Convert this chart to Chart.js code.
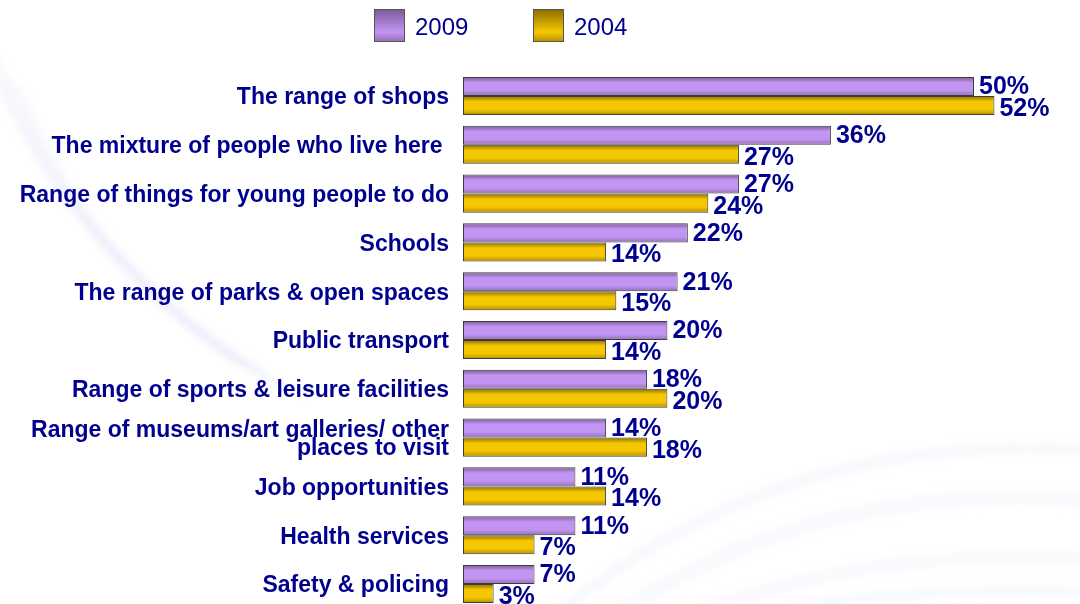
<!DOCTYPE html>
<html>
<head>
<meta charset="utf-8">
<title>Area satisfaction 2009 vs 2004</title>
<script src="https://cdn.jsdelivr.net/npm/chart.js@4.4.1/dist/chart.umd.min.js"></script>
<style>
  html, body { margin: 0; padding: 0; background: #ffffff; overflow: hidden; }
  #wrap { width: 1080px; height: 612px; position: relative; }
</style>
</head>
<body>
<div id="wrap"><canvas id="chart" width="1080" height="612"></canvas></div>
<script>
// ---- data ----
const categories = [
  'The range of shops',
  'The mixture of people who live here ',
  'Range of things for young people to do',
  'Schools',
  'The range of parks & open spaces',
  'Public transport',
  'Range of sports & leisure facilities',
  ['Range of museums/art galleries/ other', 'places to visit'],
  'Job opportunities',
  'Health services',
  'Safety & policing'
];
const seriesNames = ['2009', '2004'];
const values2009 = [50, 36, 27, 22, 21, 20, 18, 14, 11, 11, 7];
const values2004 = [52, 27, 24, 14, 15, 14, 20, 18, 14, 7, 3];

// ---- styling ----
const NAVY = '#00008f';
const CAT_PCT = 0.78;
const purpleStops = ['#7a5a98', '#c395f3', '#c395f3', '#9470b6'];
const goldStops = ['#8a6e00', '#f5c700', '#f5c700', '#b48e00'];

function barFill(stops) {
  return (ctx) => {
    const chart = ctx.chart;
    const ys = chart.scales && chart.scales.y;
    if (!chart.chartArea || !ys || ctx.type !== 'data') return stops[1];
    const center = ys.getPixelForValue(ctx.dataIndex);
    const th = ys.height / categories.length * CAT_PCT / 2;
    const top = ctx.datasetIndex === 0 ? center - th : center;
    const g = chart.ctx.createLinearGradient(0, top, 0, top + th);
    g.addColorStop(0, stops[0]);
    g.addColorStop(0.3, stops[1]);
    g.addColorStop(0.7, stops[2]);
    g.addColorStop(1, stops[3]);
    return g;
  };
}

// soft background swooshes
const backdrop = {
  id: 'backdrop',
  beforeDraw(chart) {
    const c = chart.ctx;
    c.save();
    c.fillStyle = '#ffffff';
    c.fillRect(0, 0, chart.width, chart.height);
    c.filter = 'blur(3px)';
    c.lineCap = 'round';
    // left arcs
    for (let k = 0; k < 7; k++) {
      c.strokeStyle = 'rgba(195,200,240,' + (0.10 - k * 0.008) + ')';
      c.lineWidth = 3 + (k % 3) * 3;
      c.beginPath();
      c.moveTo(-20 + k * 8, 40 + k * 10);
      c.bezierCurveTo(20 + k * 8, 150 + k * 10, 90 + k * 10, 260 + k * 8, 230 + k * 12, 360 + k * 6);
      c.stroke();
    }
    // bottom-right bands
    const bands = [
      [560, 612, 780, 430, 1090, 450, 0.12, 12],
      [620, 612, 820, 480, 1090, 500, 0.10, 16],
      [700, 612, 880, 545, 1090, 560, 0.09, 14],
      [760, 612, 930, 585, 1090, 592, 0.12, 10]
    ];
    bands.forEach(([x0, y0, cx, cy, x1, y1, a, w]) => {
      c.strokeStyle = 'rgba(195,202,240,' + a + ')';
      c.lineWidth = w;
      c.beginPath();
      c.moveTo(x0, y0);
      c.quadraticCurveTo(cx, cy, x1, y1);
      c.stroke();
    });
    c.restore();
  }
};

// value labels at the end of each bar
const valueLabels = {
  id: 'valueLabels',
  afterDatasetsDraw(chart) {
    const c = chart.ctx;
    c.save();
    c.font = 'bold 25px "Liberation Sans", Arial, sans-serif';
    c.fillStyle = NAVY;
    c.textAlign = 'left';
    c.textBaseline = 'alphabetic';
    chart.data.datasets.forEach((ds, di) => {
      const meta = chart.getDatasetMeta(di);
      meta.data.forEach((el, i) => {
        const dy = di === 0 ? 8 : 10.5;
        c.fillText(ds.data[i] + '%', el.x + 5, el.y + dy);
      });
    });
    c.restore();
  }
};

// legend row above the plot
const legendRow = {
  id: 'legendRow',
  afterDraw(chart) {
    const c = chart.ctx;
    const items = [
      { x: 374, stops: purpleStops },
      { x: 533, stops: goldStops }
    ];
    c.save();
    chart.data.datasets.forEach((ds, di) => {
      const it = items[di];
      const g = c.createLinearGradient(0, 9, 0, 42);
      g.addColorStop(0, it.stops[0]);
      g.addColorStop(0.7, it.stops[1]);
      g.addColorStop(1, it.stops[3]);
      c.fillStyle = g;
      c.fillRect(it.x, 9, 31, 33);
      c.strokeStyle = '#555555';
      c.lineWidth = 1;
      c.strokeRect(it.x + 0.5, 9.5, 30, 32);
      c.font = '24px "Liberation Sans", Arial, sans-serif';
      c.fillStyle = NAVY;
      c.textBaseline = 'alphabetic';
      c.textAlign = 'left';
      c.fillText(ds.label, it.x + 41, 35);
    });
    c.restore();
  }
};

new Chart(document.getElementById('chart'), {
  type: 'bar',
  data: {
    labels: categories,
    datasets: [
      {
        label: seriesNames[0],
        data: values2009,
        backgroundColor: barFill(purpleStops),
        borderColor: '#3c3c3c',
        borderWidth: 1,
        borderSkipped: false
      },
      {
        label: seriesNames[1],
        data: values2004,
        backgroundColor: barFill(goldStops),
        borderColor: '#3c3c3c',
        borderWidth: 1,
        borderSkipped: false
      }
    ]
  },
  options: {
    indexAxis: 'y',
    responsive: false,
    animation: false,
    devicePixelRatio: 1,
    categoryPercentage: CAT_PCT,
    barPercentage: 1.0,
    layout: { padding: { top: 71.6, bottom: 3.6, left: 0, right: 3.8 } },
    plugins: {
      legend: { display: false },
      tooltip: { enabled: false }
    },
    scales: {
      x: {
        display: false,
        min: 0,
        max: 60
      },
      y: {
        type: 'category',
        offset: true,
        grid: { display: false, drawTicks: false },
        border: { display: false },
        ticks: {
          color: NAVY,
          padding: 14,
          labelOffset: 2,
          font: { family: '"Liberation Sans", Arial, sans-serif', size: 23, weight: 'bold', lineHeight: 0.8 }
        },
        afterFit(scale) {
          scale.width = 463;
          scale.paddingTop = 0;
          scale.paddingBottom = 0;
        }
      }
    }
  },
  plugins: [backdrop, valueLabels, legendRow]
});
</script>
</body>
</html>
